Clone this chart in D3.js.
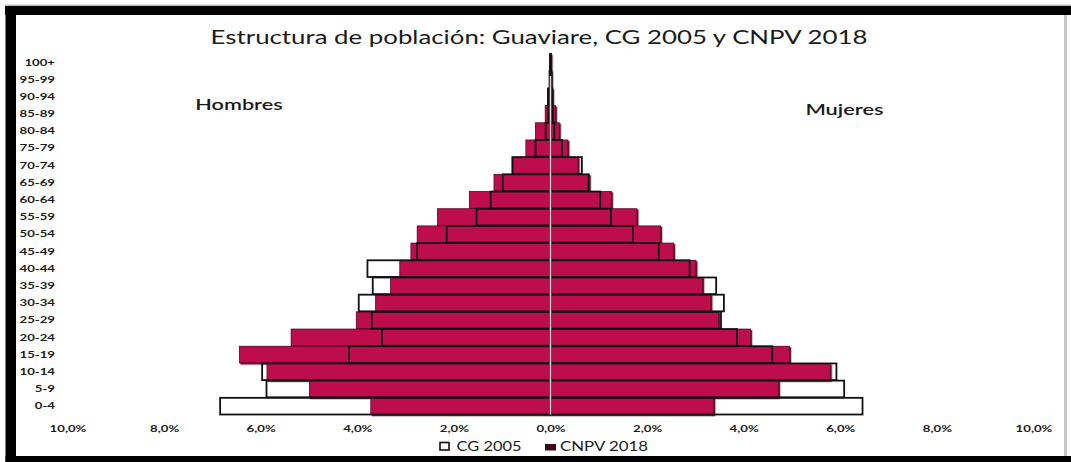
<!DOCTYPE html>
<html>
<head>
<meta charset="utf-8">
<script src="https://cdn.jsdelivr.net/npm/d3@7"></script>
<style>
body { margin: 0; background: #fff; }
text { font-family: Lato, "Open Sans", sans-serif; fill: #1a1a1a; }
</style>
</head>
<body>
<svg id="chart" width="1071" height="462"></svg>
<script>
// grupos de edad, de abajo hacia arriba
const ages = ['0-4','5-9','10-14','15-19','20-24','25-29','30-34','35-39','40-44','45-49',
  '50-54','55-59','60-64','65-69','70-74','75-79','80-84','85-89','90-94','95-99','100+']

// % de la poblacion total
const hombres2005 = [6.84,5.88,5.97,4.17,3.49,3.70,3.97,3.68,3.79,2.76,2.15,1.53,1.24,0.99,0.79,0.31,0.10,0.05,0.05,0.02,0.01]
const hombres2018 = [3.72,4.99,5.87,6.44,5.37,4.02,3.62,3.31,3.12,2.89,2.76,2.34,1.68,1.17,0.77,0.51,0.31,0.11,0.06,0.02,0.01]
const mujeres2005 = [6.46,6.08,5.92,4.59,3.86,3.53,3.59,3.43,2.88,2.24,1.71,1.25,1.03,0.79,0.65,0.24,0.08,0.05,0.04,0.02,0.01]
const mujeres2018 = [3.38,4.72,5.79,4.95,4.14,3.48,3.32,3.15,3.01,2.55,2.28,1.79,1.26,0.80,0.57,0.36,0.18,0.10,0.04,0.02,0.01]

const xTicks = [-10,-8,-6,-4,-2,0,2,4,6,8,10]

const svg = d3.select('#chart')
const SX = 1.32 // el grafico original esta estirado a lo ancho

const defs = svg.append('defs')
defs.append('filter').attr('id','sombra')
    .attr('x','-10%').attr('y','-30%').attr('width','120%').attr('height','170%')
  .append('feDropShadow')
    .attr('dx',1.3).attr('dy',1.3).attr('stdDeviation',0.6)
    .attr('flood-color','#3a0010').attr('flood-opacity',0.9)

// marco
svg.append('rect').attr('x',0).attr('y',0).attr('width',1071).attr('height',462).attr('fill','#fff')
svg.append('rect').attr('x',5).attr('y',4.5).attr('width',1066).attr('height',1.5).attr('fill','#bbb')
svg.append('rect').attr('x',5).attr('y',6).attr('width',1066).attr('height',9).attr('fill','#000')
svg.append('rect').attr('x',5.5).attr('y',6).attr('width',10.5).attr('height',456).attr('fill','#000')
svg.append('rect').attr('x',5.5).attr('y',456).attr('width',1065.5).attr('height',6).attr('fill','#000')
svg.append('rect').attr('x',1064).attr('y',15).attr('width',3).attr('height',441).attr('fill','#c8c8c8')

const x = d3.scaleLinear().domain([-10,10]).range([67.5,1033.5])
const y = d3.scaleBand().domain(ages.slice().reverse()).range([54,414.5]).paddingInner(0.03)

const rows = ages.map((a,i) => ({age: a, h05: hombres2005[i], h18: hombres2018[i], m05: mujeres2005[i], m18: mujeres2018[i]}))

function stretch(sel, sx) {
  sel.attr('transform', function() {
    const t = d3.select(this).attr('transform')
    return (t ? t + ' ' : '') + 'scale(' + sx + ',1)'
  })
}

// CNPV 2018
const g18 = svg.append('g').attr('filter','url(#sombra)')
g18.selectAll('rect.h').data(rows).join('rect')
    .attr('class','h')
    .attr('x', d => x(-d.h18))
    .attr('width', d => x(0) - x(-d.h18))
    .attr('y', d => y(d.age))
    .attr('height', y.bandwidth())
    .attr('fill','#bd0a4e')
    .attr('stroke','#5e0424').attr('stroke-width',0.8)
g18.selectAll('rect.m').data(rows).join('rect')
    .attr('class','m')
    .attr('x', x(0))
    .attr('width', d => x(d.m18) - x(0))
    .attr('y', d => y(d.age))
    .attr('height', y.bandwidth())
    .attr('fill','#bd0a4e')
    .attr('stroke','#5e0424').attr('stroke-width',0.8)

// CG 2005 (solo contorno)
const g05 = svg.append('g')
g05.selectAll('rect.h').data(rows).join('rect')
    .attr('class','h')
    .attr('x', d => x(-d.h05))
    .attr('width', d => x(0) - x(-d.h05))
    .attr('y', d => y(d.age))
    .attr('height', y.bandwidth())
    .attr('fill','none')
    .attr('stroke','#111').attr('stroke-width',1.8)
g05.selectAll('rect.m').data(rows).join('rect')
    .attr('class','m')
    .attr('x', x(0))
    .attr('width', d => x(d.m05) - x(0))
    .attr('y', d => y(d.age))
    .attr('height', y.bandwidth())
    .attr('fill','none')
    .attr('stroke','#111').attr('stroke-width',1.8)

// eje central
svg.append('line')
    .attr('x1', x(0)).attr('x2', x(0))
    .attr('y1', y.range()[0] + 22).attr('y2', y.range()[1])
    .attr('stroke','#dcdcdc').attr('stroke-width',1.5)

// ejes
const loc = d3.formatLocale({decimal: ',', thousands: '.', grouping: [3], currency: ['$','']})
const f1 = loc.format('.1f')

const xAxis = svg.append('g')
    .attr('transform','translate(0,' + y.range()[1] + ')')
    .call(d3.axisBottom(x).tickValues(xTicks).tickSize(0).tickPadding(10).tickFormat(d => f1(Math.abs(d)) + '%'))
xAxis.select('.domain').remove()
xAxis.selectAll('text')
    .style('font-family','Lato, sans-serif').style('font-size','10px').style('font-weight','bold').attr('fill','#1a1a1a')
    .call(stretch, SX)

const yAxis = svg.append('g')
    .attr('transform','translate(55,0)')
    .call(d3.axisLeft(y).tickSize(0).tickPadding(0))
yAxis.select('.domain').remove()
yAxis.selectAll('text')
    .style('font-family','Lato, sans-serif').style('font-size','10px').style('font-weight','bold').attr('fill','#1a1a1a')
    .call(stretch, SX)

// textos
function label(str, cx, by, size, w, weight) {
  const t = svg.append('text')
      .attr('text-anchor','middle')
      .attr('transform','translate(' + cx + ',' + by + ')')
      .style('font-size', size + 'px')
      .style('font-weight', weight || 'normal')
      .text(str)
  const n = t.node().getComputedTextLength()
  t.attr('transform','translate(' + cx + ',' + by + ') scale(' + (w / n) + ',1)')
  return t
}

label('Estructura de población: Guaviare, CG 2005 y CNPV 2018', 539, 44, 19, 657)
label('Hombres', 239, 110, 14.5, 88, 'bold').style('font-weight','600')
label('Mujeres', 844.5, 115, 14.5, 79, 'bold').style('font-weight','600')

// leyenda
svg.append('rect').attr('x',440).attr('y',442.5).attr('width',9).attr('height',7.5)
    .attr('fill','#fff').attr('stroke','#111').attr('stroke-width',1.6)
label('CG 2005', 489, 450.5, 12.5, 65)
svg.append('rect').attr('x',545).attr('y',444).attr('width',11).attr('height',6.5).attr('fill','#3e0512')
label('CNPV 2018', 604, 450.5, 12.5, 88)
</script>
</body>
</html>
